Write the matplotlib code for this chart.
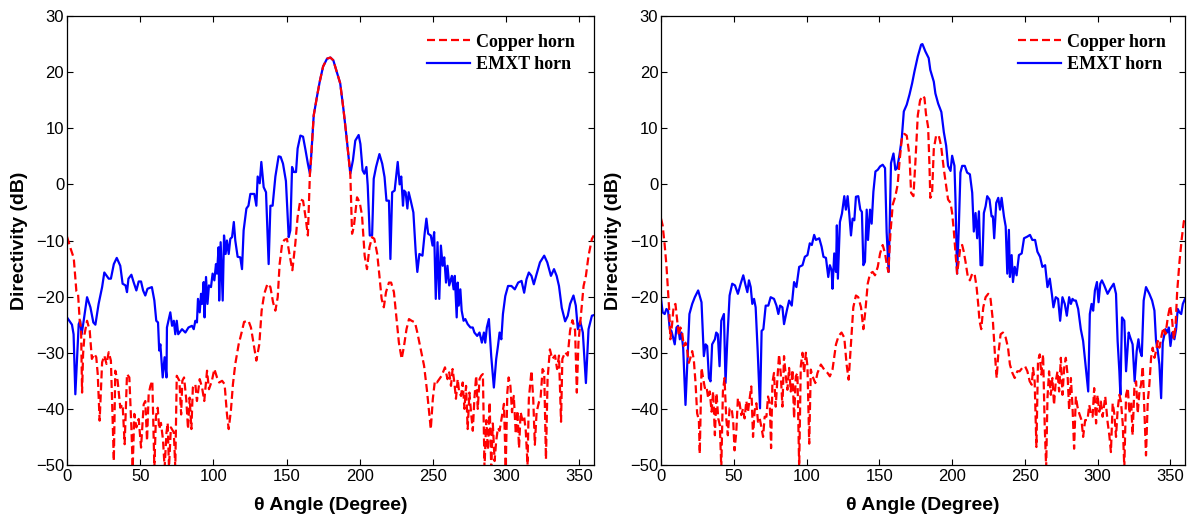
import numpy as np
import matplotlib
matplotlib.use("Agg")
import matplotlib.pyplot as plt

# directivity cuts, (theta in degrees, directivity in dB)
left_copper = [(0,-9.3),(2.3,-11.3),(4.6,-13.1),(6.4,-19),(7.5,-19.3),(8.7,-24.3),(9.6,-25.5),(10.3,-37.1),(11,-30.2),(12,-26.7),(13.7,-24.3),(15.5,-26),(17,-31.1),(18.7,-30.2),(20,-30.8),(21,-33.8),(22.3,-42.1),(24,-31.7),(25.5,-30.5),(27,-32),(28.5,-29.9),(30,-31.4),(32,-49.3),(33,-33.2),(34.6,-35),(36.4,-39.8),(38,-39.2),(39.4,-46.3),(41,-33.8),(42.6,-34.4),(44,-43.3),(44.9,-50.5),(46,-40.9),(47.4,-43.3),(49,-41.8),(50.6,-46.9),(52.4,-39.2),(53.5,-38.6),(54.7,-45.7),(55.8,-37.4),(57,-35.9),(58.3,-35),(59.7,-50.5),(60.8,-41.3),(62,-39.8),(63,-43.6),(64.2,-42.5),(65.6,-45.5),(66.7,-50.5),(68,-44.2),(68.8,-42.5),(69.7,-50.5),(71,-43.3),(73,-44.2),(74,-50.5),(75,-34.1),(76.8,-35),(78,-41),(78.8,-35),(80,-34.4),(81.5,-38.3),(82.7,-43.6),(83.8,-38),(85,-43.6),(86,-36.2),(87.7,-35.6),(88.8,-38.6),(90.7,-34.7),(92.3,-36.2),(93.8,-38.6),(95.7,-33.2),(97,-36.5),(99,-35),(100.7,-32.9),(102.5,-34.4),(104,-35.3),(106,-35),(107.7,-35.6),(109.3,-40.9),(110.5,-43.6),(112,-40.3),(113.4,-35.6),(115,-32),(117.3,-28.5),(119.6,-26.1),(121,-24.5),(124,-24.3),(125.7,-25.5),(127.6,-28.5),(129.4,-31.4),(131.4,-28.5),(133,-22.5),(134.8,-19.5),(137,-17.7),(139,-18.3),(140.8,-21),(142.4,-22.5),(144,-20.1),(145.3,-14.2),(147,-10.6),(148.5,-9.9),(150.3,-9.7),(152,-12.4),(154,-15.3),(156,-10.6),(157.6,-5.8),(159.5,-2.7),(161.3,-2.9),(163,-5.8),(164.6,-9.1),(166,1.9),(166.7,4.3),(168.6,12.3),(171,15.9),(172.7,18.3),(175,21),(177.7,22.4),(180,22.6),(182,22.1),(184.4,20),(186.7,18),(189,13.2),(190.8,9),(192.4,4.9),(193.6,1.9),(194.8,-8.8),(196,-7.6),(198.2,-2.3),(200,-3.2),(201.6,-5.5),(203.4,-12.7),(205,-15.1),(206.7,-11.2),(208.5,-9.4),(210,-9.7),(212,-12.4),(213.5,-16.3),(215,-20.4),(216.5,-21.9),(218,-19.2),(220,-17.5),(221.5,-17.5),(223.4,-19.2),(225,-23.4),(226.8,-28.2),(228.7,-31.1),(230.3,-28.8),(232,-25.8),(233.7,-24),(235.5,-24.3),(237.8,-24.6),(239.4,-26.4),(241.7,-29.4),(244,-32.3),(245.9,-36.5),(247.5,-40.6),(248.6,-43.6),(250,-38.2),(251.4,-35),(252.8,-35.3),(254.4,-34.7),(256,-34.1),(258.3,-32.6),(260,-34.7),(261.2,-33.5),(262.4,-35.9),(263.5,-32.9),(264.7,-35.3),(265.8,-38.2),(267,-34.7),(268,-37.1),(269.3,-37.7),(270.4,-35.3),(271.6,-40),(272.7,-35.9),(273.8,-43.6),(275,-37.1),(276.1,-40.6),(277.3,-43.9),(278.4,-38.2),(279.6,-34.1),(280.7,-40),(281.9,-34.7),(283,-34.1),(284.2,-33.8),(285.3,-50.5),(286.5,-42),(287.6,-47.3),(288.8,-38.8),(289.9,-50.5),(291,-42.6),(292.2,-49.3),(293.3,-45.7),(294.5,-43.4),(295.6,-43.9),(297.2,-41.4),(298.6,-39.1),(299.8,-50.5),(300.9,-37.1),(301.8,-34.4),(303,-35.9),(304.1,-40.6),(305.3,-37.7),(306.7,-44.5),(307.8,-40.3),(308.9,-47),(310,-40.6),(311.2,-42),(312.4,-41.4),(313.5,-43.9),(314.7,-50),(315.6,-38.2),(317.4,-33.2),(318.6,-38.2),(319.7,-46.4),(320.9,-40.6),(322.5,-38.8),(323.6,-38.2),(325,-32.9),(326.1,-33.5),(327.3,-49),(328.4,-34.7),(330,-29.4),(331.6,-31.1),(333.5,-30.5),(334.9,-32.9),(336.2,-30.5),(337.6,-42.3),(338.5,-31.1),(340.4,-29.9),(342.2,-30.5),(343.8,-26),(345.4,-24.2),(347.2,-26),(348.4,-37.1),(349.5,-28.2),(351.4,-22.8),(353,-18.1),(354.6,-16.3),(356.4,-12.7),(358.7,-9.7),(360,-9.1)]

left_emxt = [(0,-23.7),(3.4,-25),(4.5,-26.7),(5.7,-37.4),(8,-24.9),(9,-24.3),(10,-26.7),(11.4,-24.3),(13.7,-20.1),(16,-21.9),(18,-24.6),(19.4,-25),(21.6,-21.3),(24,-18.3),(25.5,-15.7),(28.5,-16.8),(30,-16.8),(32,-14.2),(34,-13.1),(36.4,-14.5),(38,-17.7),(40,-18),(41,-19.2),(42,-16.8),(44,-16.1),(45.5,-17.4),(47.4,-18.9),(49,-17.3),(50.6,-17.3),(52,-18.9),(53.5,-19.8),(55,-18.6),(58,-18.3),(59.7,-20.7),(61,-24.3),(62.2,-24.6),(63,-29.6),(63.8,-28.5),(65.4,-34.4),(66.7,-30.8),(68,-34.4),(68.3,-25.5),(70.6,-22.8),(71.8,-25.2),(73,-24.3),(74,-26.7),(75,-24.3),(76,-26.7),(78.6,-25.8),(80.9,-26.4),(83,-25.5),(85.4,-25.2),(86.6,-25.8),(87.7,-24.3),(88.8,-24.6),(89.5,-20.4),(90.7,-22.8),(91.6,-19.5),(92.3,-21.3),(93.4,-17.4),(94,-23.7),(95,-16.5),(96,-21.3),(97,-18),(98.4,-18.3),(99.5,-15.9),(100.7,-17.1),(101.8,-14.2),(102.5,-15.9),(103.6,-11.2),(104,-20.7),(105,-10.3),(106.4,-20.7),(107.3,-9.1),(108.4,-12.4),(109.3,-10),(110.5,-12.4),(111.6,-9.7),(112.8,-9.4),(114,-6.7),(115,-10),(116.6,-12.9),(118.4,-13),(119.6,-15.1),(120.7,-8.2),(122.6,-4.3),(124,-3.8),(125.3,-1.7),(127,-1.7),(128,-1.7),(129.4,-3.8),(130.3,1.4),(131.7,0.2),(132.8,4),(134.4,-0.5),(136,-1.4),(137.8,-14.2),(139,-3.8),(140.5,-3.8),(142.4,1.4),(144.6,5),(146,4.9),(147.6,3.7),(149.6,0.6),(151.5,-9.4),(152.6,-8.2),(153.8,3.1),(155,2.2),(156.5,2.2),(157.6,6.4),(159.5,8.7),(161.3,8.5),(163,6.1),(164.6,3.7),(166,1.9),(166.7,4.3),(168.6,12.3),(171,15.9),(172.7,18.3),(175,21),(177.7,22.4),(180,22.6),(182,22.1),(184.4,20),(186.7,18),(189,13.2),(190.8,9),(192.4,4.9),(193.6,1.9),(195.4,4.3),(197,7.8),(199.3,8.8),(200.5,7.2),(202,2.5),(203.2,1.9),(204.6,3.1),(205.5,-0.2),(206.9,-9.1),(208.5,-9.1),(209.6,1),(211.2,3.1),(213.5,5.4),(215.4,3.7),(217,1.3),(218.3,-2.9),(220,-2.9),(221,-13.3),(222.2,-1.4),(223.9,-1.1),(226,4),(227.3,0),(228.4,1.4),(229.6,-3.8),(230.3,-1.1),(231.4,-1.4),(232.6,-4.3),(233.5,-1.4),(234.9,-2.9),(236.7,-5),(238.3,-12.1),(239.4,-15.6),(240.8,-12.4),(242.9,-12.7),(244.5,-8.5),(245.6,-6.1),(246.8,-8.8),(248.6,-9.1),(249.8,-10.9),(250.9,-8.5),(252,-20.4),(253.2,-10.3),(254.4,-20.4),(255.5,-10.9),(256.7,-14.5),(257.8,-13),(259,-17.5),(260,-14.5),(261.2,-18),(263,-16.3),(264.2,-18.7),(265,-16.3),(266.3,-23.7),(267,-17.5),(267.7,-21.6),(268.8,-18.7),(269.7,-22.5),(271,-24.3),(272.2,-24),(273.8,-24.9),(275.7,-25.5),(277.3,-25.5),(278.4,-26.4),(280.3,-27),(281.9,-26.4),(283.5,-28.2),(284.9,-26.4),(285.8,-28.2),(286.9,-25.5),(288.3,-24),(289.9,-30.6),(291.7,-36.2),(293.3,-31.1),(294.5,-28.8),(295.6,-26.4),(296.8,-27.6),(297.9,-23.1),(299.5,-19.9),(301.4,-18.1),(303.7,-18.1),(306,-18.7),(308.3,-17.5),(310.6,-17.2),(312.4,-19.3),(314,-16.9),(315.6,-15.7),(317.4,-16.3),(319,-17.8),(320.9,-16),(323.2,-13.9),(326.1,-12.7),(328.2,-13.9),(330.7,-16.3),(332.8,-15.1),(334.6,-16.3),(336.2,-18.1),(338.1,-22),(340.4,-24.4),(342.2,-23.4),(343.8,-21.3),(346.1,-19.8),(347.7,-21.6),(349.1,-25.8),(350.7,-24.4),(352.5,-26.4),(354.6,-35.4),(356.4,-25.8),(358.7,-23.4),(360,-23.3)]

right_copper = [(0,-6.1),(1.1,-7.3),(2.5,-10.8),(3.7,-14.4),(4.8,-19.2),(5.7,-22.8),(6.4,-27.6),(7.6,-24.9),(8.7,-21.6),(9.9,-21.3),(11,-24),(12.2,-27),(13.3,-25.5),(14.5,-26.4),(15.6,-28.8),(16.8,-28.2),(17.9,-29.4),(19.1,-31.8),(20.2,-30.9),(21.4,-29.7),(22.5,-31.2),(23.7,-35.4),(24.8,-40.8),(26,-42),(26.6,-48),(27.8,-32.7),(28.9,-34.5),(30.1,-36.3),(31.2,-36),(32.4,-38.1),(33.5,-36.9),(34.7,-40.5),(35.8,-36.9),(37,-44.7),(38.1,-37.2),(39.3,-41.7),(40.4,-42.9),(41.4,-50.5),(42.5,-36.9),(43.6,-34.5),(44.8,-41.7),(45.9,-44.7),(47.1,-39.9),(48.5,-39.9),(49.6,-42.3),(50.5,-47.4),(51.7,-44.1),(52.8,-38.1),(54,-39),(55.1,-41.1),(56.3,-40),(57.4,-41.7),(58.6,-38.6),(59.7,-40.6),(60.9,-38.1),(62,-36),(63.2,-45),(64.3,-40.3),(65.5,-39),(66.6,-42.3),(67.8,-41.7),(68.9,-43.2),(70.1,-45),(71.2,-41.4),(72.4,-41.4),(73.5,-37.8),(74.7,-39),(75.6,-47),(76.5,-35.4),(77.6,-33.6),(78.8,-39.6),(79.9,-34.8),(81.1,-30.3),(82.2,-33.6),(83.4,-39.6),(84.5,-30.6),(85.7,-34.2),(86.8,-36.6),(88,-32.7),(89.1,-36.9),(90.3,-33),(91.4,-41.7),(92.6,-34.2),(93.7,-33.6),(94.9,-50.5),(96,-32.4),(97.2,-30),(98.3,-33.6),(99.5,-30),(100.6,-32.4),(101.8,-46.2),(102.9,-33),(104.1,-34.2),(106,-35.4),(107.5,-33.6),(109.8,-32.1),(112.1,-33),(114.4,-33.6),(116,-34.2),(117.8,-33),(120.2,-28.5),(122,-27),(124,-26.4),(125.9,-27.3),(127.5,-32.1),(128.9,-34.8),(130.5,-28.5),(132.1,-21.9),(133.9,-19.8),(135.5,-20.1),(137.4,-21.9),(139,-25.8),(140.4,-22.5),(142,-17.7),(143.6,-15.9),(145.4,-15.6),(147,-16.2),(148.9,-14.7),(150.5,-12.3),(152.3,-10.8),(153.9,-12.3),(155,-14.1),(156.2,-15.6),(157.6,-8.7),(159.2,-3.6),(161,-2.1),(162.6,0),(163.8,3.9),(165.4,8.1),(167.2,9),(168.8,8.7),(170.7,5.1),(171.8,-1.5),(173.4,-2.1),(174.8,4.2),(176.4,12.3),(178,15),(179.9,15.8),(181,15.4),(182,12.6),(183.5,10.2),(184.4,3.6),(185,-2.4),(186.2,-1.8),(187.4,6.3),(189,8.7),(190.8,8.7),(192.4,6.9),(194.3,2.7),(195.9,-0.3),(197.2,-2.7),(198.9,-3.3),(200,-5.1),(201.1,-8.1),(202.3,-12.3),(203.4,-15.9),(204.6,-13.5),(205.7,-11.1),(206.9,-10.8),(208,-12),(209.2,-13.8),(210.8,-16.5),(212.2,-17.1),(213.8,-15.9),(215.4,-15.9),(216.8,-18.3),(217.9,-21.3),(218.8,-24.3),(220,-25.8),(221.4,-21.9),(223,-20.1),(224.8,-19.5),(226.4,-20.4),(228,-24.3),(229.4,-30.3),(230.6,-34.5),(231.7,-30.3),(233.3,-26.7),(234.9,-26.4),(236.8,-27.3),(238.4,-29.1),(239.7,-32.1),(241.4,-33.6),(243,-34.5),(244.8,-33.3),(246.4,-33.3),(248.2,-32.7),(250.1,-32.4),(251.7,-33.3),(253.3,-35.1),(254.7,-35.7),(255.6,-32.7),(256.7,-35.1),(257.9,-46.8),(259,-31.5),(260.2,-30.3),(261.3,-33.9),(262.5,-30.3),(263.6,-42.9),(264.6,-50.5),(265.5,-38.1),(266.6,-33.3),(267.8,-37.5),(268.9,-34.5),(270,-39.3),(271.2,-35.1),(272.4,-33.3),(273.5,-36.9),(274.7,-30.9),(275.8,-37.5),(277,-32.7),(278.1,-30.9),(279.3,-33.9),(280.4,-40.2),(281.6,-34.5),(282.7,-39.6),(283.8,-47.1),(285,-37.8),(286.1,-39.6),(287.3,-40.8),(288.9,-42),(290,-45),(291.4,-42),(293,-42),(294.2,-39.3),(295.3,-40.8),(296.5,-41.4),(297.6,-36.3),(298.9,-42.6),(299.9,-37.5),(301.1,-40.5),(302.2,-38.7),(303.4,-41.4),(305.2,-37.8),(306.8,-42.3),(308,-44.7),(309.1,-47.7),(310.3,-39),(311.4,-40.8),(312.6,-45),(313.7,-40.2),(314.9,-37.5),(316,-38.7),(317.2,-42.6),(318.3,-50.5),(319.5,-37.5),(320.7,-36.3),(321.8,-40.8),(323,-38.7),(324,-44.7),(325.2,-36.3),(326.4,-35.1),(327.5,-40.8),(328.7,-36.9),(329.8,-35.7),(331,-32.4),(332.1,-40.2),(333.2,-48.3),(334.4,-38.7),(335.5,-35.7),(336.7,-30.9),(337.8,-29.1),(339,-30.9),(340.1,-29.7),(341.3,-27.9),(342.4,-29.1),(344.1,-26.7),(345.2,-25.5),(346.6,-26.7),(348.2,-23.7),(349.8,-21.6),(351.2,-24.3),(352.3,-27.6),(353.5,-25.2),(354.6,-19.2),(356.2,-13.8),(357.8,-9.6),(359.2,-6.6),(360,-6)]

right_emxt = [(0,-20.4),(1.1,-22.8),(2.5,-23.1),(3.7,-22.2),(4.8,-22.5),(6,-25.8),(7.1,-26.1),(8.3,-27.3),(9.4,-28.5),(10.6,-25.5),(11.7,-25.2),(12.9,-27.6),(14,-26.4),(15.2,-29.1),(16.8,-39.3),(18.4,-29.7),(19.5,-23.1),(21.4,-21.3),(23.2,-20.1),(25.5,-18.9),(27.8,-21),(29.4,-30.6),(30.6,-28.5),(31.7,-28.8),(32.9,-34.5),(34,-35.1),(35.1,-28.5),(37,-27.6),(37.9,-26.4),(39,-26.7),(40.2,-32.4),(41.4,-24.3),(43.2,-23.1),(44.3,-35.4),(45.5,-27.9),(47.1,-19.8),(48.9,-17.7),(50.8,-18),(52.8,-19.5),(54.7,-17.7),(56.5,-16.2),(58.1,-18),(59.3,-19.2),(60.4,-17.1),(61.6,-18.3),(62.7,-21.3),(63.9,-20.4),(65,-21.9),(66.4,-29.7),(68,-39.9),(69.1,-26.1),(70.3,-25.8),(71.9,-21.6),(73.7,-21.6),(75.3,-20.1),(77.6,-20.4),(79.3,-21.6),(80.6,-23.1),(81.8,-21.6),(83.4,-21.9),(84.5,-24.9),(86.4,-22.5),(88,-20.7),(89.8,-21.6),(91.4,-17.4),(93,-18.3),(94.9,-14.7),(97.2,-14.4),(98.8,-12.9),(100.6,-12.6),(102.2,-10.5),(103.6,-10.8),(105.2,-9),(106.4,-9.9),(108.7,-9.6),(110.3,-11.1),(111.6,-12.9),(113.3,-13.1),(114.9,-16.5),(116,-14.4),(117.2,-15.3),(117.8,-18.6),(119,-12.3),(120.2,-15.6),(120.8,-7.3),(121.5,-16.8),(122.9,-6.7),(124.3,-5.2),(125.9,-2.1),(127,-4.5),(128.2,-2.1),(129.3,-5.2),(130.5,-9.1),(131.6,-6.1),(132.8,-6.4),(133.9,-2.2),(135.5,-2.1),(136.9,-4.5),(138,-4.9),(139,-14.4),(140.1,-13.8),(141.3,-4.5),(142.2,-9.9),(143.6,-4.5),(144.7,-7),(145.9,-1.3),(147.3,2.3),(148.9,2.6),(150.5,3.2),(152.3,3.5),(153.9,2.9),(155,-8.5),(156.4,-15.6),(158,3.8),(159.7,5.5),(161,2.6),(162.2,2.9),(163.8,5.2),(165.4,8.2),(166.8,13),(168.8,14.2),(170.7,16),(172.5,18),(174.1,20.1),(176.4,22.8),(178.7,24.9),(179.6,25),(181.6,23.7),(183.9,22.5),(185,20.4),(187.4,18.3),(188.5,16.2),(190.4,14.4),(192.6,12.9),(194.3,9.3),(195.9,6.9),(197.2,3.3),(198.9,2.4),(200,5.1),(201.6,3.3),(202.3,-2.7),(203.4,-15.9),(204.6,-7.6),(205.7,2.1),(206.9,3.3),(208.7,3.3),(210.3,2.1),(212.2,1.8),(213.8,-1.5),(214.9,-8.4),(216.1,-5.1),(217.2,-9.6),(218.4,-4.8),(219.5,-14.4),(220.7,-14.4),(221.8,-5.1),(223,-3.9),(224.1,-2.1),(225.7,-2.7),(227.1,-5.7),(228,-5.7),(228.9,-9.6),(230.3,-3.3),(231.7,-2.4),(232.9,-4.5),(234,-2.4),(235.6,-5.7),(236.8,-7.5),(237.9,-15.9),(239,-8.1),(239.7,-16.5),(240.9,-12.6),(241.8,-17.4),(243,-14.7),(244.3,-16.2),(245.9,-12.6),(247.8,-12.3),(249.4,-9.6),(251.7,-9.3),(253.5,-9),(255.1,-9.9),(257,-9.9),(258.6,-12),(260.4,-12.9),(262,-14.7),(263.9,-14.4),(265.5,-18.3),(267.1,-16.8),(268.5,-19.5),(269.6,-21.9),(271.2,-20.1),(272.8,-20.4),(274.2,-24.3),(275.8,-20.1),(277.4,-21.3),(278.8,-23.4),(280.4,-20.1),(281.6,-21.3),(282.7,-20.4),(283.8,-20.7),(285,-20.7),(286.6,-22.2),(288.4,-25.8),(290,-27.9),(291.9,-32.7),(293.5,-36.9),(294.6,-23.1),(295.8,-21.3),(296.9,-22.5),(298.1,-18.9),(299.5,-17.4),(300.6,-21),(301.8,-17.7),(302.9,-17.1),(304.5,-18),(306.8,-19.5),(308.7,-18.6),(311,-17.7),(312.6,-19.5),(313.7,-27.9),(314.9,-33.3),(315.6,-37.5),(316.7,-23.7),(318.3,-24.3),(319.5,-33.3),(320.4,-29.7),(321.3,-26.4),(322.4,-27.3),(324,-28.5),(325.4,-35.1),(326.8,-29.7),(328,-27.6),(329.1,-29.7),(330.3,-30.6),(331.6,-20.7),(333.2,-18.3),(335.5,-19.5),(337.4,-20.7),(339,-22.5),(340.1,-27.9),(341.3,-29.7),(342.4,-32.1),(343.6,-38.1),(344.7,-28.2),(346.6,-25.8),(347.7,-26.4),(348.9,-25.5),(350,-28.8),(351.2,-26.4),(352.7,-27.6),(353.9,-25.8),(355,-22.2),(356.2,-22.8),(357.4,-23.1),(358.5,-21.3),(360,-20.4)]

xticks = [0, 50, 100, 150, 200, 250, 300, 350]
yticks = [-50, -40, -30, -20, -10, 0, 10, 20, 30]

fig = plt.figure(figsize=(11.9, 5.17), dpi=100)
ax1 = fig.add_axes([0.0563, 0.1006, 0.4427, 0.8684])
ax2 = fig.add_axes([0.5555, 0.1006, 0.4403, 0.8684])

for ax, copper, emxt in [(ax1, left_copper, left_emxt), (ax2, right_copper, right_emxt)]:
    cx, cy = np.array(copper).T
    ex, ey = np.array(emxt).T
    l_emxt, = ax.plot(ex, ey, color='#0000ff', lw=1.6, label='EMXT horn')
    l_cu, = ax.plot(cx, cy, color='#ff0000', lw=1.6, linestyle=(0, (3.6, 1.8)), label='Copper horn')

    ax.set_xlim(0, 360)
    ax.set_ylim(-50, 30)
    ax.set_xticks(xticks)
    ax.set_yticks(yticks)
    ax.tick_params(axis='both', which='both', direction='in', top=True, right=True,
                   length=4, width=0.8, labelsize=12, pad=2)
    ax.tick_params(axis='x', pad=3)
    for lab in ax.get_xticklabels() + ax.get_yticklabels():
        lab.set_family('Liberation Sans')
    for s in ax.spines.values():
        s.set_linewidth(0.9)

    ax.set_xlabel('\u03b8 Angle (Degree)', fontsize=14, fontweight='bold',
                  family='Liberation Sans', labelpad=9)
    ax.set_ylabel('Directivity (dB)', fontsize=14, fontweight='bold',
                  family='Liberation Sans', labelpad=6)

    leg = ax.legend(handles=[l_cu, l_emxt], loc='upper right', frameon=False,
                    bbox_to_anchor=(0.985, 0.985), handlelength=2.4, handletextpad=0.35,
                    borderaxespad=0.2, labelspacing=0.3,
                    prop={'family': 'Liberation Serif', 'weight': 'bold', 'size': 13})

fig.savefig('out.png', dpi=100)
